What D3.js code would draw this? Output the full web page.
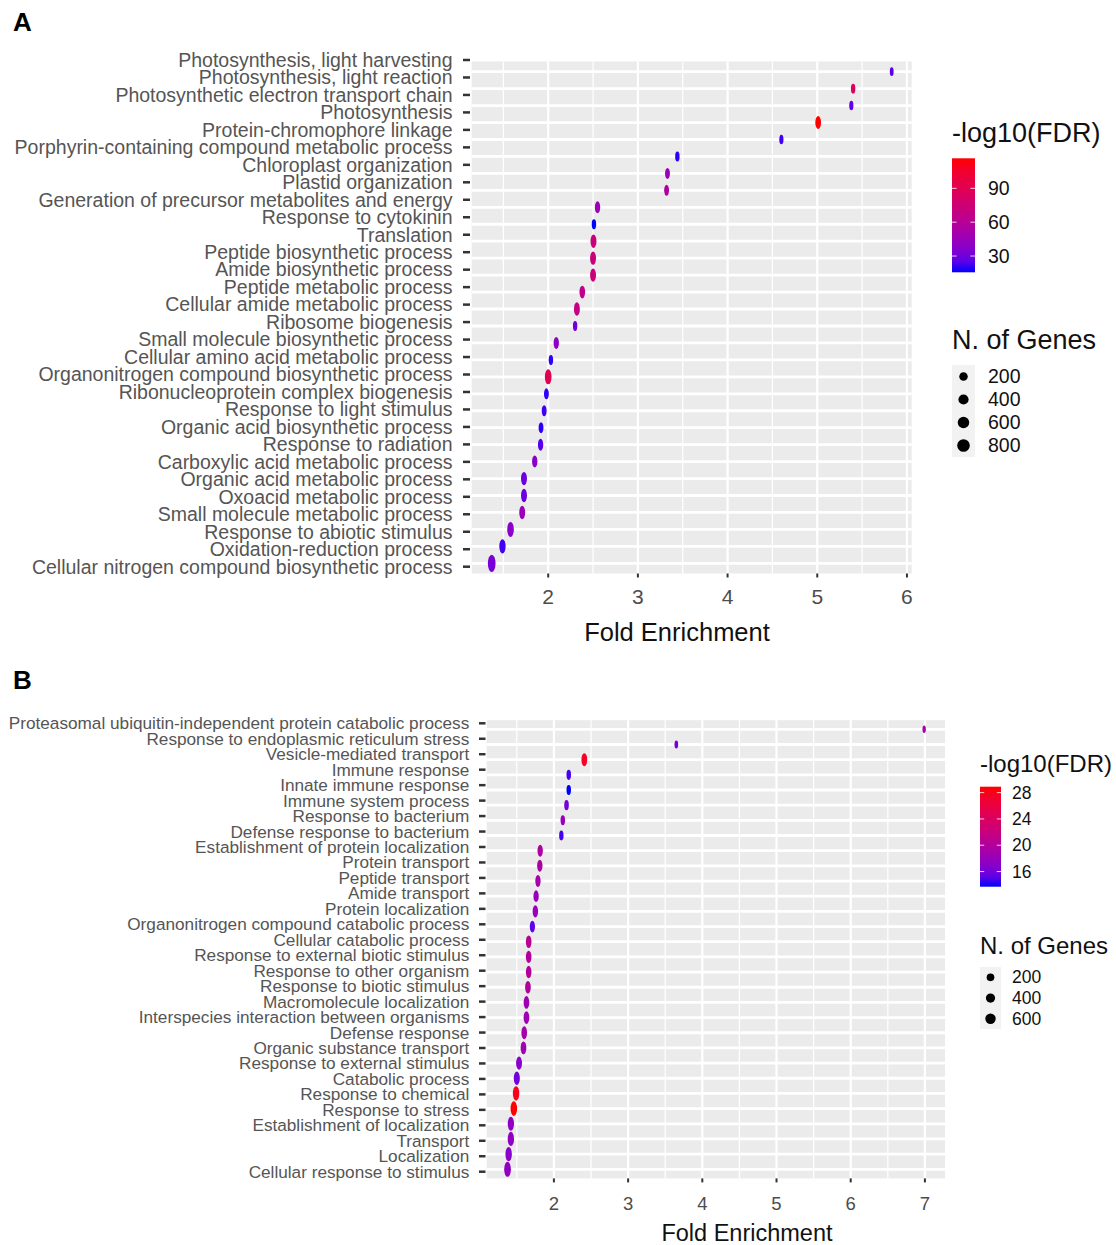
<!DOCTYPE html>
<html>
<head>
<meta charset="utf-8">
<script src="https://cdn.jsdelivr.net/npm/d3@7"></script>
<style>
  body { margin: 0; background: #fff; }
  text { font-family: "Liberation Sans", Arial, sans-serif; }
</style>
</head>
<body>
<svg id="fig" width="1116" height="1245"></svg>
<script>
// ---- panel A data ----
const catsA = [
  'Photosynthesis, light harvesting', 'Photosynthesis, light reaction',
  'Photosynthetic electron transport chain', 'Photosynthesis',
  'Protein-chromophore linkage', 'Porphyrin-containing compound metabolic process',
  'Chloroplast organization', 'Plastid organization',
  'Generation of precursor metabolites and energy', 'Response to cytokinin',
  'Translation', 'Peptide biosynthetic process', 'Amide biosynthetic process',
  'Peptide metabolic process', 'Cellular amide metabolic process',
  'Ribosome biogenesis', 'Small molecule biosynthetic process',
  'Cellular amino acid metabolic process', 'Organonitrogen compound biosynthetic process',
  'Ribonucleoprotein complex biogenesis', 'Response to light stimulus',
  'Organic acid biosynthetic process', 'Response to radiation',
  'Carboxylic acid metabolic process', 'Organic acid metabolic process',
  'Oxoacid metabolic process', 'Small molecule metabolic process',
  'Response to abiotic stimulus', 'Oxidation-reduction process',
  'Cellular nitrogen compound biosynthetic process'
];
const foldA = [5.83, 5.40, 5.38, 5.01, 4.60, 3.44, 3.33, 3.32, 2.55, 2.51, 2.505, 2.50, 2.50, 2.38, 2.32,
  2.30, 2.09, 2.03, 2.00, 1.98, 1.955, 1.92, 1.915, 1.85, 1.73, 1.73, 1.71, 1.58, 1.49, 1.37];
const fdrA = [24, 85, 26, 116.6, 20, 18, 45, 55, 45, 15.6, 72, 72, 72, 65, 68,
  30, 40, 18, 90, 18, 20, 18, 24, 38, 28, 28, 45, 38, 20, 32];
const genesA = [48, 107, 80, 320, 80, 107, 166, 166, 240, 107, 357, 357, 357, 300, 357,
  107, 240, 107, 537, 166, 166, 166, 240, 240, 357, 357, 357, 537, 440, 850];
const xTicksA = [2, 3, 4, 5, 6];
const fdrTicksA = [30, 60, 90];
const geneBreaksA = [200, 400, 600, 800];

// ---- panel B data ----
const catsB = [
  'Proteasomal ubiquitin-independent protein catabolic process',
  'Response to endoplasmic reticulum stress', 'Vesicle-mediated transport',
  'Immune response', 'Innate immune response', 'Immune system process',
  'Response to bacterium', 'Defense response to bacterium',
  'Establishment of protein localization', 'Protein transport', 'Peptide transport',
  'Amide transport', 'Protein localization', 'Organonitrogen compound catabolic process',
  'Cellular catabolic process', 'Response to external biotic stimulus',
  'Response to other organism', 'Response to biotic stimulus', 'Macromolecule localization',
  'Interspecies interaction between organisms', 'Defense response',
  'Organic substance transport', 'Response to external stimulus', 'Catabolic process',
  'Response to chemical', 'Response to stress', 'Establishment of localization',
  'Transport', 'Localization', 'Cellular response to stimulus'
];
const foldB = [6.99, 3.65, 2.41, 2.20, 2.20, 2.17, 2.12, 2.10, 1.815, 1.81, 1.785, 1.76, 1.75, 1.71, 1.66,
  1.66, 1.66, 1.65, 1.63, 1.63, 1.60, 1.59, 1.53, 1.50, 1.49, 1.46, 1.42, 1.42, 1.39, 1.375];
const fdrB = [19, 16, 27.5, 14.5, 13.7, 16, 18, 14.5, 19.5, 19.5, 19, 18, 18, 15, 20.5,
  20, 20, 20, 18.5, 18.5, 19, 18.5, 17, 16, 28, 28.9, 17.5, 17.5, 17, 17.5];
const genesB = [20, 40, 360, 130, 130, 140, 120, 110, 270, 270, 260, 250, 280, 240, 320,
  310, 310, 320, 330, 330, 340, 350, 380, 420, 520, 560, 480, 500, 520, 600];
const xTicksB = [2, 3, 4, 5, 6, 7];
const fdrTicksB = [16, 20, 24, 28];
const geneBreaksB = [200, 400, 600];

const svg = d3.select('#fig');
svg.append('rect').attr('width', 1116).attr('height', 1245).attr('fill', '#fff');

function drawPanel(o) {
  const g = svg.append('g');
  const rows = o.cats.map((c, i) => ({ cat: c, fold: o.fold[i], fdr: o.fdr[i], genes: o.genes[i] }));

  const ext = d3.extent(o.fold);
  const pad = (ext[1] - ext[0]) * 0.05;
  const x = d3.scaleLinear().domain([ext[0] - pad, ext[1] + pad]).range([o.left, o.right]);
  const y = d3.scalePoint().domain(o.cats).range([o.top, o.bottom]).padding(0.6);
  const yLab = d3.scalePoint().domain(o.cats).range([o.labTop, o.labBottom]);
  const fdrExt = d3.extent(o.fdr);
  const color = d3.scaleLinear().domain(fdrExt).range(['blue', 'red']).interpolate(d3.interpolateLab);
  const size = d3.scaleSqrt().domain([0, o.geneMax]).range([o.rMin, o.rMax]);

  // panel
  g.append('rect').attr('x', o.left).attr('y', o.top)
    .attr('width', o.right - o.left).attr('height', o.bottom - o.top).attr('fill', '#ebebeb');

  const minors = d3.range(Math.ceil(x.domain()[0] * 2) / 2, x.domain()[1], 0.5).filter(v => v % 1 !== 0);
  g.selectAll('.minor').data(minors).enter().append('line')
    .attr('x1', d => x(d)).attr('x2', d => x(d)).attr('y1', o.top).attr('y2', o.bottom)
    .attr('stroke', '#fff').attr('stroke-width', 1.2);
  g.selectAll('.vmajor').data(o.xTicks).enter().append('line')
    .attr('x1', d => x(d)).attr('x2', d => x(d)).attr('y1', o.top).attr('y2', o.bottom)
    .attr('stroke', '#fff').attr('stroke-width', 2.2);
  g.selectAll('.hmajor').data(o.cats).enter().append('line')
    .attr('x1', o.left).attr('x2', o.right).attr('y1', d => y(d)).attr('y2', d => y(d))
    .attr('stroke', '#fff').attr('stroke-width', 2.8);

  // y axis ticks and labels
  g.selectAll('.ytick').data(o.cats).enter().append('line')
    .attr('x1', o.tickX0).attr('x2', o.tickX1).attr('y1', d => yLab(d)).attr('y2', d => yLab(d))
    .attr('stroke', '#333').attr('stroke-width', 2.5);
  g.selectAll('.ylab').data(o.cats).enter().append('text')
    .attr('x', o.labelRight).attr('y', d => yLab(d)).attr('dy', '0.35em')
    .attr('text-anchor', 'end').attr('fill', '#555')
    .style('font-size', o.labelSize + 'px').text(d => d);

  // x axis
  g.selectAll('.xtick').data(o.xTicks).enter().append('line')
    .attr('x1', d => x(d)).attr('x2', d => x(d)).attr('y1', o.bottom).attr('y2', o.bottom + 4)
    .attr('stroke', '#333').attr('stroke-width', 2);
  g.selectAll('.xlab').data(o.xTicks).enter().append('text')
    .attr('x', d => x(d)).attr('y', o.xLabY).attr('text-anchor', 'middle').attr('fill', '#4d4d4d')
    .style('font-size', o.xLabSize + 'px').text(d => d);
  g.append('text').attr('x', o.titleX).attr('y', o.titleY).attr('text-anchor', 'middle')
    .attr('fill', '#111').style('font-size', o.titleSize + 'px').text('Fold Enrichment');

  // points
  g.selectAll('.pt').data(rows).enter().append('ellipse')
    .attr('cx', d => x(d.fold)).attr('cy', d => y(d.cat))
    .attr('rx', d => size(d.genes) * o.sx).attr('ry', d => size(d.genes) * o.sy)
    .attr('fill', d => color(d.fdr));

  // panel letter
  g.append('text').attr('x', 13).attr('y', o.letterY).attr('font-weight', 'bold')
    .attr('fill', '#000').style('font-size', '26px').text(o.letter);

  // colour legend
  const L = o.legend;
  g.append('text').attr('x', L.x).attr('y', L.titleY).attr('fill', '#111')
    .style('font-size', L.titleSize + 'px').text('-log10(FDR)');
  const gradId = 'grad' + o.letter;
  const grad = svg.append('defs').append('linearGradient').attr('id', gradId)
    .attr('x1', 0).attr('y1', 1).attr('x2', 0).attr('y2', 0);
  d3.range(0, 1.0001, 0.1).forEach(t => {
    grad.append('stop').attr('offset', t)
      .attr('stop-color', color(fdrExt[0] + t * (fdrExt[1] - fdrExt[0])));
  });
  const cb = d3.scaleLinear().domain(fdrExt).range([L.barBottom, L.barTop]);
  g.append('rect').attr('x', L.x).attr('y', L.barTop).attr('width', L.barW)
    .attr('height', L.barBottom - L.barTop).attr('fill', `url(#${gradId})`);
  o.fdrTicks.forEach(t => {
    g.append('line').attr('x1', L.x).attr('x2', L.x + L.barW / 5).attr('y1', cb(t)).attr('y2', cb(t))
      .attr('stroke', '#fff').attr('stroke-width', 1).attr('stroke-opacity', 0.8);
    g.append('line').attr('x1', L.x + L.barW * 4 / 5).attr('x2', L.x + L.barW).attr('y1', cb(t)).attr('y2', cb(t))
      .attr('stroke', '#fff').attr('stroke-width', 1).attr('stroke-opacity', 0.8);
  });
  g.selectAll('.cblab').data(o.fdrTicks).enter().append('text')
    .attr('x', L.labX).attr('y', d => cb(d)).attr('dy', '0.35em').attr('fill', '#111')
    .style('font-size', L.labSize + 'px').text(d => d);

  // size legend
  g.append('text').attr('x', L.x).attr('y', L.sizeTitleY).attr('fill', '#111')
    .style('font-size', L.titleSize + 'px').text('N. of Genes');
  const n = o.geneBreaks.length;
  g.append('rect').attr('x', L.x).attr('y', L.keyTop).attr('width', L.barW)
    .attr('height', n * L.keyH).attr('fill', '#f2f2f2');
  o.geneBreaks.forEach((b, i) => {
    const cy = L.keyTop + L.keyH * (i + 0.5);
    g.append('circle').attr('cx', L.x + L.barW / 2).attr('cy', cy).attr('r', size(b) * L.keyScale).attr('fill', '#000');
    g.append('text').attr('x', L.labX).attr('y', cy).attr('dy', '0.35em').attr('fill', '#111')
      .style('font-size', L.labSize + 'px').text(b);
  });
}

drawPanel({
  letter: 'A', letterY: 31,
  cats: catsA, fold: foldA, fdr: fdrA, genes: genesA,
  xTicks: xTicksA, fdrTicks: fdrTicksA, geneBreaks: geneBreaksA,
  left: 471.7, right: 911.7, top: 61.5, bottom: 573.5,
  labTop: 60, labBottom: 566.7, labelRight: 452.5, labelSize: 19.5,
  tickX0: 463, tickX1: 470,
  xLabY: 604, xLabSize: 21, titleX: 677, titleY: 641, titleSize: 25.5,
  geneMax: 800, rMin: 2.2, rMax: 6.3, sx: 0.6, sy: 1.35,
  legend: { x: 952, titleY: 142, titleSize: 27, barTop: 158.3, barBottom: 272.3, barW: 23,
    labX: 988, labSize: 19.5, sizeTitleY: 349, keyTop: 365, keyH: 23, keyScale: 1 }
});

drawPanel({
  letter: 'B', letterY: 689,
  cats: catsB, fold: foldB, fdr: fdrB, genes: genesB,
  xTicks: xTicksB, fdrTicks: fdrTicksB, geneBreaks: geneBreaksB,
  left: 486.7, right: 945, top: 720.2, bottom: 1178.4,
  labTop: 723.3, labBottom: 1171.7, labelRight: 469.3, labelSize: 17.2,
  tickX0: 479, tickX1: 485.5,
  xLabY: 1209.5, xLabSize: 18.5, titleX: 747, titleY: 1241, titleSize: 23.5,
  geneMax: 600, rMin: 2, rMax: 5.2, sx: 0.65, sy: 1.45,
  legend: { x: 980, titleY: 772, titleSize: 24, barTop: 786.7, barBottom: 886.7, barW: 21,
    labX: 1012, labSize: 17.5, sizeTitleY: 954, keyTop: 967, keyH: 20.7, keyScale: 1 }
});
</script>
</body>
</html>
